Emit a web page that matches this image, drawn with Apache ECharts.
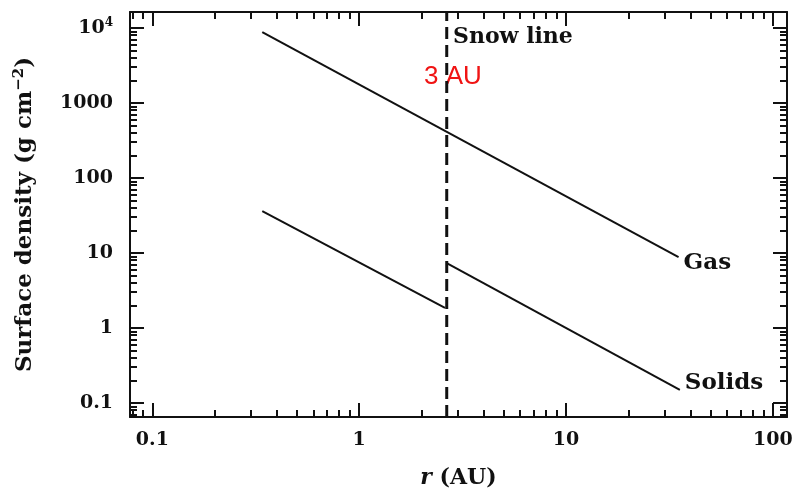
<!DOCTYPE html>
<html>
<head>
<meta charset="utf-8">
<script src="https://cdn.jsdelivr.net/npm/echarts@6/dist/echarts.min.js"></script>
<style>
  html, body { margin: 0; padding: 0; background: #fff; }
  #chart { width: 793px; height: 489px; }
</style>
</head>
<body>
<div id="chart"></div>
<script>
// axis ranges (log)
const X_MIN = 0.078, X_MAX = 117
const Y_MIN = 0.065, Y_MAX = 16300

// tick values
const xMajor = [0.1, 1, 10, 100]
const yMajor = [0.1, 1, 10, 100, 1000, 10000]
const minorSteps = [2, 3, 4, 5, 6, 7, 8, 9]
const xDecades = [0.01, 0.1, 1, 10, 100]
const yDecades = [0.01, 0.1, 1, 10, 100, 1000, 10000]

const snowLine = 2.65
const gas = [[0.34, 8800], [35, 8.8]]
const solidsInner = [[0.34, 36], [2.6, 1.85]]
const solidsOuter = [[2.65, 7.3], [35.5, 0.15]]

const minorOf = (decades, lo, hi) => {
  const out = []
  decades.map(d => {
    minorSteps.map(s => {
      const v = +(d * s).toPrecision(3)
      if (v > lo && v < hi) out.push(v)
    })
  })
  return out
}
const xMinor = minorOf(xDecades, X_MIN, X_MAX)
const yMinor = minorOf(yDecades, Y_MIN, Y_MAX)

const FONT = 'DejaVu Serif'
const black = '#111'

const tickLabel = v => {
  if (v >= 10000) return '10{sup|4}'
  return String(v)
}
const labelRich = { sup: { fontSize: 12, fontFamily: FONT, fontWeight: 'bold', color: black, verticalAlign: 'top', padding: [0, 0, 10, 0] } }

const makeAxis = (min, max, position, values, len, withLine, withLabel) => ({
  type: 'log',
  min: min,
  max: max,
  position: position,
  axisLine: { show: withLine, lineStyle: { color: black, width: 2 } },
  axisTick: { show: true, inside: true, length: len, customValues: values, lineStyle: { color: black, width: 2 } },
  axisLabel: withLabel ? {
    show: true,
    customValues: values,
    formatter: tickLabel,
    fontFamily: FONT,
    fontWeight: 'bold',
    fontSize: 19,
    color: black,
    margin: position === 'bottom' ? 14 : 17,
    rich: labelRich
  } : { show: false },
  splitLine: { show: false },
  minorTick: { show: false }
})

const xBottom = makeAxis(X_MIN, X_MAX, 'bottom', xMajor, 14, true, true)
xBottom.name = '{i|r} (AU)'
xBottom.nameLocation = 'middle'
xBottom.nameGap = 50
xBottom.nameTextStyle = {
  fontFamily: FONT, fontWeight: 'bold', fontSize: 22, color: black,
  rich: { i: { fontFamily: FONT, fontStyle: 'italic', fontWeight: 'bold', fontSize: 22, color: black } }
}

const yLeft = makeAxis(Y_MIN, Y_MAX, 'left', yMajor, 14, true, true)
yLeft.name = 'Surface density (g cm{sup|−2})'
yLeft.nameLocation = 'middle'
yLeft.nameGap = 91
yLeft.nameTextStyle = {
  fontFamily: FONT, fontWeight: 'bold', fontSize: 23, color: black,
  rich: { sup: { fontFamily: FONT, fontWeight: 'bold', fontSize: 15, color: black, verticalAlign: 'top', padding: [0, 0, 12, 0] } }
}

const lineSeries = (data, label, offset) => ({
  type: 'line',
  data: data,
  xAxisIndex: 0,
  yAxisIndex: 0,
  showSymbol: false,
  silent: true,
  lineStyle: { color: black, width: 2 },
  endLabel: label ? {
    show: true,
    formatter: label,
    fontFamily: FONT,
    fontWeight: 'bold',
    fontSize: 23,
    color: black,
    distance: 5,
    offset: offset
  } : { show: false }
})

const option = {
  animation: false,
  backgroundColor: '#fff',
  grid: { left: 130, right: 6, top: 12, bottom: 72, containLabel: false, outerBoundsMode: 'none' },
  xAxis: [
    xBottom,
    makeAxis(X_MIN, X_MAX, 'bottom', xMinor, 7, false, false),
    makeAxis(X_MIN, X_MAX, 'top', xMajor, 14, true, false),
    makeAxis(X_MIN, X_MAX, 'top', xMinor, 7, false, false)
  ],
  yAxis: [
    yLeft,
    makeAxis(Y_MIN, Y_MAX, 'left', yMinor, 7, false, false),
    makeAxis(Y_MIN, Y_MAX, 'right', yMajor, 14, true, false),
    makeAxis(Y_MIN, Y_MAX, 'right', yMinor, 7, false, false)
  ],
  series: [
    lineSeries(gas, 'Gas', [0, 6]),
    lineSeries(solidsInner, null),
    lineSeries(solidsOuter, 'Solids', [0, -7]),
    {
      type: 'line',
      data: [[snowLine, Y_MIN], [snowLine, Y_MAX]],
      showSymbol: false,
      silent: true,
      lineStyle: { color: black, width: 3, type: [12, 6] }
    }
  ],
  graphic: [
    {
      type: 'text', left: 453, top: 26,
      style: { text: 'Snow line', fontFamily: FONT, fontWeight: 'bold', fontSize: 22, fill: black }
    },
    {
      type: 'text', left: 424, top: 64,
      style: { text: '3 AU', fontFamily: 'Liberation Sans', fontSize: 26, fill: '#f01414' }
    }
  ]
}

const myChart = echarts.init(document.getElementById('chart'))
myChart.setOption(option)
</script>
</body>
</html>
